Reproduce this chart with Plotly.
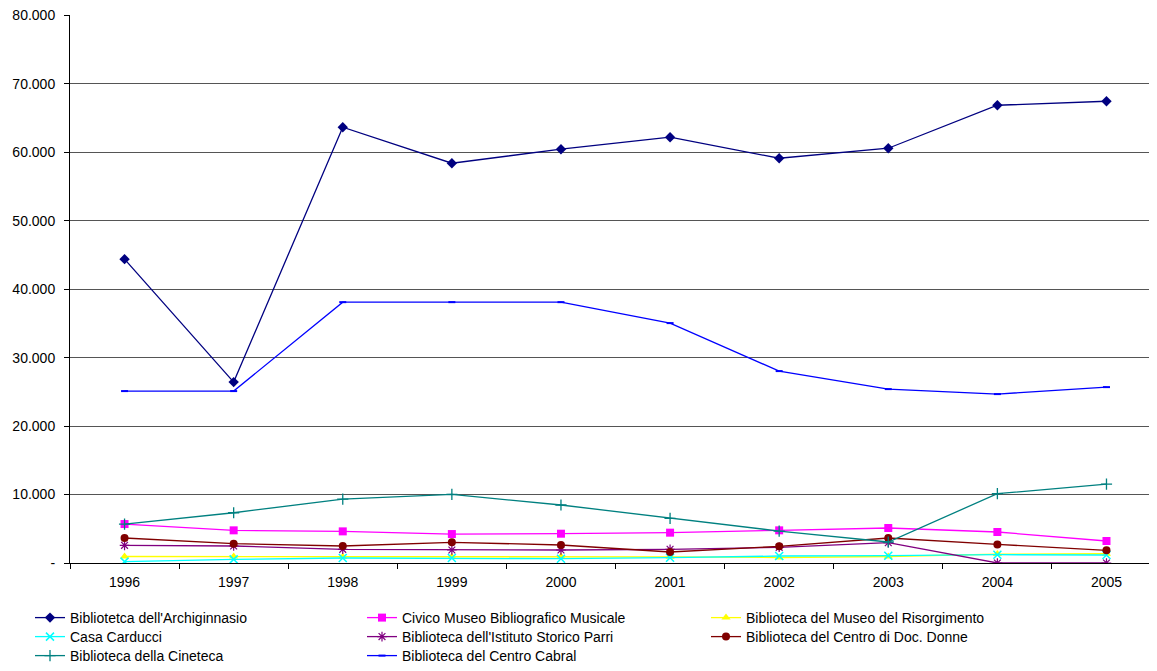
import plotly.graph_objects as go

years = ["1996", "1997", "1998", "1999", "2000", "2001", "2002", "2003", "2004", "2005"]

archiginnasio = [44380, 26420, 63650, 58390, 60440, 62190, 59120, 60580, 66860, 67440]
civico_museo = [5690, 4770, 4620, 4230, 4280, 4430, 4770, 5110, 4530, 3210]
risorgimento = [950, 950, 900, 900, 950, 900, 800, 950, 1300, 1350]
casa_carducci = [200, 530, 730, 730, 630, 780, 1020, 1070, 1210, 1170]
parri = [2580, 2480, 2000, 1900, 1900, 2000, 2290, 2970, 0, 0]
donne = [3650, 2820, 2480, 3020, 2630, 1610, 2430, 3650, 2720, 1850]
cineteca = [5690, 7340, 9340, 10020, 8470, 6520, 4670, 3070, 10120, 11530]
cabral = [25110, 25110, 38100, 38100, 38100, 35040, 28030, 25400, 24670, 25690]

y_tickvals = [0, 10000, 20000, 30000, 40000, 50000, 60000, 70000, 80000]
y_ticktext = ["-", "10.000", "20.000", "30.000", "40.000", "50.000", "60.000", "70.000", "80.000"]

# (name, values, colour, symbol, size, marker line width, legend col, legend row)
series = [
    ("Bibliotetca dell'Archiginnasio", archiginnasio, "#000080", "diamond", 8, None, 0, 0),
    ("Civico Museo Bibliografico Musicale", civico_museo, "#FF00FF", "square", 8, None, 1, 0),
    ("Biblioteca del Museo del Risorgimento", risorgimento, "#FFFF00", "triangle-up", 8, None, 2, 0),
    ("Casa Carducci", casa_carducci, "#00FFFF", "x-thin", 8, 1.5, 0, 1),
    ("Biblioteca dell'Istituto Storico Parri", parri, "#800080", "asterisk", 8, 1.2, 1, 1),
    ("Biblioteca del Centro di Doc. Donne", donne, "#800000", "circle", 8, None, 2, 1),
    ("Biblioteca della Cineteca", cineteca, "#008080", "cross-thin", 8, 1.3, 0, 2),
    ("Biblioteca del Centro Cabral", cabral, "#0000FF", "line-ew", 5, 2, 1, 2),
]

# page body has an 8px margin: figure is sized/offset to compensate
W, H = 1149, 663
col_x = [22, 354, 698]
row_top = [594, 613, 632]

fig = go.Figure()
legends = {}
for i, (name, vals, color, sym, size, lw, col, row) in enumerate(series):
    marker = dict(symbol=sym, size=size, color=color)
    if lw is not None:
        marker["line"] = dict(color=color, width=lw)
    leg = "legend" if i == 0 else f"legend{i + 1}"
    fig.add_trace(go.Scatter(
        x=years, y=vals, name=name, mode="lines+markers",
        line=dict(color=color, width=1.3), marker=marker, legend=leg,
    ))
    legends[leg] = dict(
        orientation="v", xref="container", yref="container",
        xanchor="left", yanchor="top",
        x=col_x[col] / W, y=1 - row_top[row] / H,
        font=dict(size=14, family="Liberation Sans, Arial, sans-serif"),
        tracegroupgap=0, itemwidth=30, bgcolor="rgba(0,0,0,0)",
    )

fig.update_layout(
    width=W, height=H,
    margin=dict(l=62, r=0, t=7, b=H - 555, autoexpand=False),
    paper_bgcolor="white", plot_bgcolor="white",
    font=dict(family="Liberation Sans, Arial, sans-serif", size=14, color="black"),
    showlegend=True,
    **legends,
)

fig.update_xaxes(
    type="category", tickson="boundaries", ticks="outside", ticklen=5,
    tickcolor="black", showline=True, linecolor="black", linewidth=1,
    showgrid=False, tickfont=dict(size=14), range=[-0.5, 9.463],
    ticklabelstandoff=6,
)
fig.update_yaxes(
    range=[0, 80040], tickvals=y_tickvals, ticktext=y_ticktext,
    ticks="outside", ticklen=5, tickcolor="black",
    showline=True, linecolor="black", linewidth=1,
    showgrid=True, gridcolor="#555555", gridwidth=1,
    zeroline=False, tickfont=dict(size=14), ticklabelstandoff=6,
    ticklabeloverflow="allow",
)

fig.write_html("out.html")
